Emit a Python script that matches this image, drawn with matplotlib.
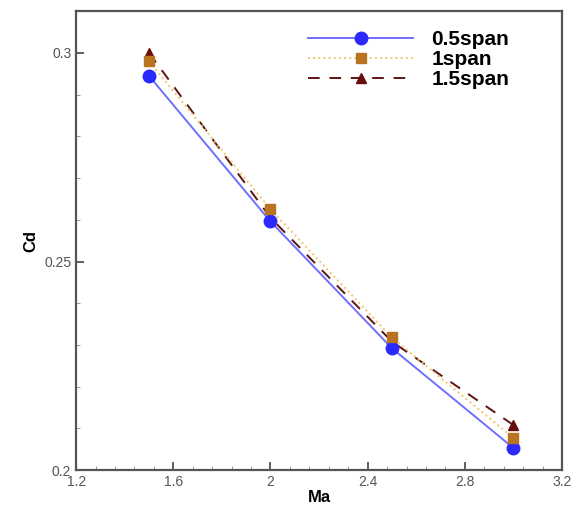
import matplotlib
matplotlib.use('Agg')
import matplotlib.pyplot as plt
from matplotlib.ticker import MultipleLocator, FuncFormatter

plt.rcParams['font.family'] = ['Liberation Sans', 'DejaVu Sans']

ma = [1.5, 2.0, 2.5, 3.0]
cd_05 = [0.2945, 0.2596, 0.2292, 0.2053]
cd_10 = [0.2980, 0.2625, 0.2318, 0.2077]
cd_15 = [0.3000, 0.2605, 0.2308, 0.2108]

fig = plt.figure(figsize=(5.77, 5.11), dpi=100)
ax = fig.add_axes([0.132, 0.080, 0.842, 0.898])

ax.plot(ma, cd_05, '-', color='#6f6fff', lw=1.4, marker='o', ms=9,
        mfc='#2a2aff', mec='#2a2aff', label='0.5span', zorder=4)
ax.plot(ma, cd_10, ':', color='#f2c46a', lw=1.4, marker='s', ms=7,
        mfc='#b87420', mec='#b87420', label='1span', zorder=5)
ax.plot(ma, cd_15, '--', color='#5c1414', lw=1.4, dashes=(6, 5), marker='^', ms=7,
        mfc='#6a0d0d', mec='#6a0d0d', label='1.5span', zorder=3)

ax.set_xlim(1.2, 3.2)
ax.set_ylim(0.2, 0.31)
ax.xaxis.set_major_locator(MultipleLocator(0.4))
ax.xaxis.set_minor_locator(MultipleLocator(0.08))
ax.yaxis.set_major_locator(MultipleLocator(0.05))
ax.yaxis.set_minor_locator(MultipleLocator(0.01))
ax.xaxis.set_major_formatter(FuncFormatter(lambda v, p: f'{v:g}'))
ax.yaxis.set_major_formatter(FuncFormatter(lambda v, p: f'{v:g}'))

ax.tick_params(which='major', direction='in', length=6, width=1.2, labelsize=10,
               labelcolor='#555555', color='#444444')
ax.tick_params(which='minor', direction='in', length=3, width=0.6, color='#888888')
for s in ax.spines.values():
    s.set_linewidth(1.6)
    s.set_color('#555555')

ax.set_xlabel('Ma', fontsize=12, fontweight='bold', labelpad=1)
ax.set_ylabel('Cd', fontsize=12, fontweight='bold', labelpad=4)

leg = ax.legend(loc='upper right', frameon=False, fontsize=15, handlelength=5,
                bbox_to_anchor=(0.93, 1.0), labelspacing=0.05, handletextpad=0.9)
for t in leg.get_texts():
    t.set_fontweight('bold')

fig.savefig('out.png', dpi=100, facecolor='white')
